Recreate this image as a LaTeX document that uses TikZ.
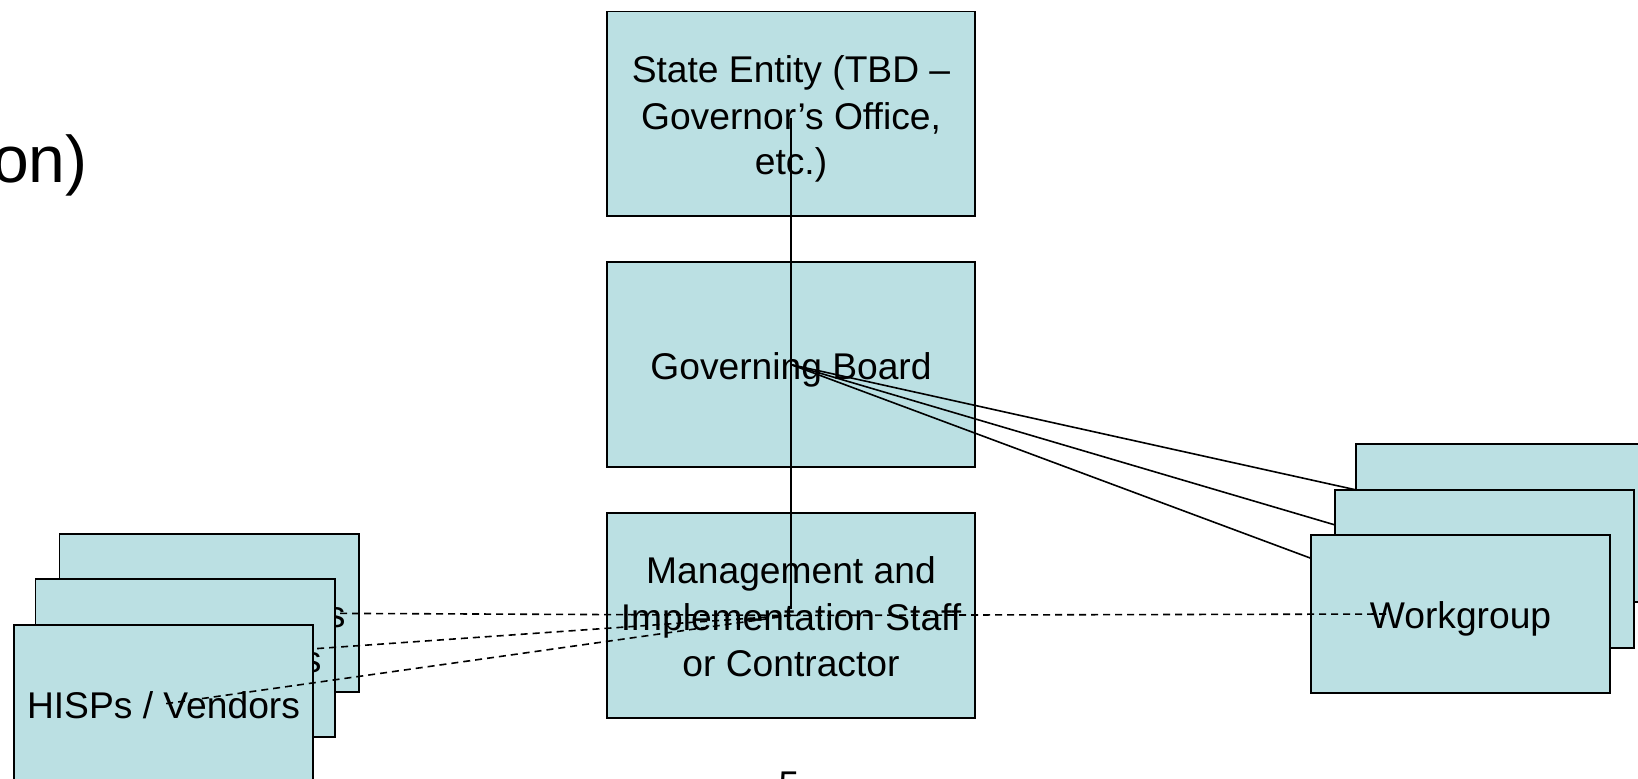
\documentclass[tikz,border=0pt]{standalone}
\usepackage{fontspec}
\setmainfont{Liberation Sans}
\definecolor{boxfill}{RGB}{187,224,227}
\newcommand\boxstrut{\rule[-3.8pt]{0pt}{22.3pt}}
\begin{document}
\begin{tikzpicture}[x=0.5pt,y=-0.5pt,
  box/.style={draw=black, line width=0.8pt, fill=boxfill, minimum width=184pt,
    minimum height=102.4pt, inner sep=0pt, align=center,
    font=\fontsize{18.6}{22.3}\selectfont},
  stackbox/.style={box, minimum width=149.7pt, minimum height=79pt},
  link/.style={draw=black, line width=0.8pt},
  dashlink/.style={link, dash pattern=on 3.5pt off 2.5pt}]
\clip (0,0) rectangle (1638,778);
% slide leftovers
\node[anchor=base east, inner sep=0pt, font=\fontsize{33}{40}\selectfont] (title) at (88,182) {on)};
\node[anchor=north, inner sep=0pt, font=\fontsize{18.6}{22.3}\selectfont] (pagenum) at (789,771) {5};
% central column
\node[box] (state) at (791,113.8) {\boxstrut State Entity (TBD –\\\boxstrut Governor’s Office,\\\boxstrut etc.)};
\node[box] (board) at (791,364.6) {\boxstrut Governing Board};
\node[box] (mgmt) at (791,615.4) {\boxstrut Management and\\\boxstrut Implementation Staff\\\boxstrut or Contractor};
\draw[link] ([yshift=-2pt]state.center) -- ([yshift=3pt]mgmt.center);
% lines from the board to the workgroups (behind the workgroup boxes)
\coordinate (wg3c) at (1505.5,523);
\coordinate (wg2c) at (1484.5,569);
\coordinate (wg1c) at (1460.5,614);
\draw[link] (board.center) -- (wg3c);
\draw[link] (board.center) -- (wg2c);
\draw[link] (board.center) -- (wg1c);
% workgroups
\node[stackbox] (wg3) at (wg3c) {};
\node[stackbox] (wg2) at (wg2c) {};
\node[stackbox] (wg1) at (wg1c) {\boxstrut Workgroup};
\coordinate (wgend) at (1387,614);
\draw[dashlink] (mgmt.center) -- (wgend);
% HISPs / Vendors stack
\node[stackbox] (hisp3) at (209,612.8) {\boxstrut HISPs / Vendors};
\draw[dashlink] (mgmt.center) -- (hisp3.center);
\node[stackbox] (hisp2) at (185,657.8) {\boxstrut HISPs / Vendors};
\draw[dashlink] (mgmt.center) -- (hisp2.center);
\node[stackbox] (hisp1) at (163.5,704) {\boxstrut HISPs / Vendors};
\draw[dashlink] (mgmt.center) -- (hisp1.center);
\end{tikzpicture}
\end{document}
